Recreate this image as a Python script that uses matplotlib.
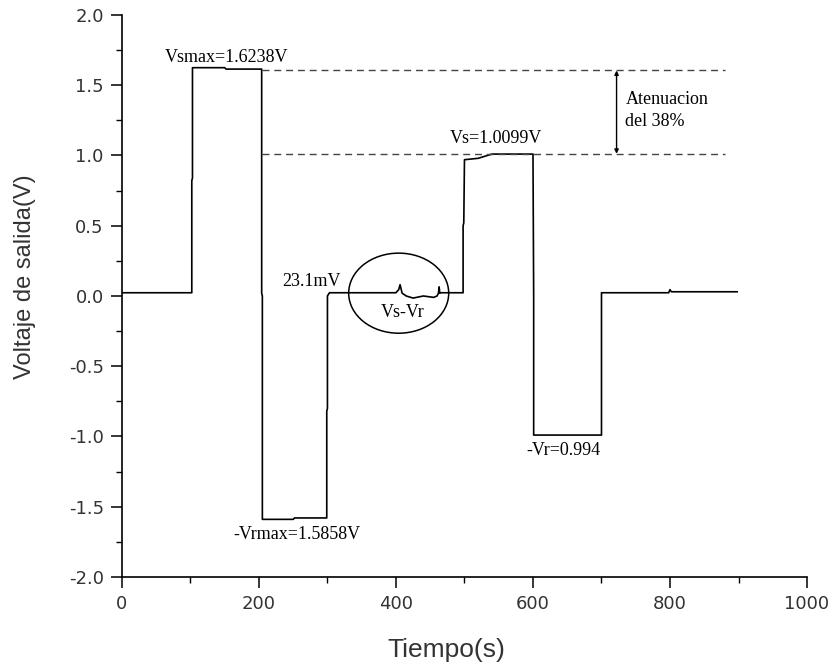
import matplotlib.pyplot as plt
from matplotlib.patches import Ellipse
from matplotlib.ticker import MultipleLocator

# signal breakpoints
tiempo = [0, 102, 102, 103, 103, 150, 152, 204, 204, 205, 205, 250, 252, 299, 299, 300,
          300, 303, 303, 400, 404, 406, 409, 415, 425, 440, 455, 460, 462, 463, 464, 466,
          498, 498, 499, 500, 520, 540, 600, 601, 601, 700, 700, 798, 800, 802, 898]
voltaje = [0.023, 0.023, 0.82, 0.84, 1.625, 1.625, 1.615, 1.615, 0.02, 0.0, -1.59, -1.59,
           -1.58, -1.58, -0.82, -0.80, 0.0, 0.023, 0.023, 0.023, 0.045, 0.08, 0.02, 0.0,
           -0.015, 0.0, -0.01, 0.0, 0.02, 0.065, 0.02, 0.023, 0.023, 0.5, 0.52, 0.97, 0.98,
           1.01, 1.01, 0.0, -0.99, -0.99, 0.023, 0.023, 0.045, 0.03, 0.03]

v_smax = 1.6238
v_s = 1.0099

fig = plt.figure(figsize=(8.35, 6.67), dpi=100)
ax = fig.add_axes([0.146, 0.135, 0.8205, 0.8425])

ax.plot(tiempo, voltaje, color='black', lw=1.2)

ax.hlines([1.605, 1.012], 205, 880, colors='#444444', linestyles=(0, (5, 3.5)), lw=1.0)
ax.annotate('', xy=(722, 1.605), xytext=(722, 1.012),
            arrowprops=dict(arrowstyle='<|-|>', color='black', lw=1.0,
                            mutation_scale=6, shrinkA=0, shrinkB=0))

serif = dict(family='Liberation Serif', fontsize=13, color='black')
ax.text(735, 1.32, 'Atenuacion\ndel 38%', ha='left', va='center', linespacing=1.45,
        family='Liberation Serif', fontsize=13)
ax.text(153, 1.70, f'Vsmax={v_smax}V', ha='center', va='center', **serif)
ax.text(546, 1.12, f'Vs={v_s}V', ha='center', va='center', **serif)
ax.text(277, 0.10, '23.1mV', ha='center', va='center', **serif)
ax.text(410, -0.12, 'Vs-Vr', ha='center', va='center', **serif)
ax.text(255, -1.70, '-Vrmax=1.5858V', ha='center', va='center', **serif)
ax.text(644, -1.10, '-Vr=0.994', ha='center', va='center', **serif)

ax.add_patch(Ellipse((404, 0.02), 146, 0.57, fill=False, edgecolor='black', lw=1.1))

ax.set_xlim(0, 1000)
ax.set_ylim(-2.0, 2.0)
ax.xaxis.set_major_locator(MultipleLocator(200))
ax.xaxis.set_minor_locator(MultipleLocator(100))
ax.yaxis.set_major_locator(MultipleLocator(0.5))
ax.yaxis.set_minor_locator(MultipleLocator(0.25))
ax.yaxis.set_major_formatter(plt.FuncFormatter(lambda v, p: f'{v:.1f}'))
ax.tick_params(which='major', direction='out', length=8, width=1.1, labelsize=13,
               labelcolor='#333333', pad=5)
ax.tick_params(which='minor', direction='out', length=4, width=1.0)
for s in ['top', 'right']:
    ax.spines[s].set_visible(False)
for s in ['left', 'bottom']:
    ax.spines[s].set_linewidth(1.2)

ax.set_xlabel('Tiempo(s)', family='Liberation Sans', fontsize=19, color='#333333')
ax.set_ylabel('Voltaje de salida(V)', family='Liberation Sans', fontsize=17, color='#333333')
ax.xaxis.set_label_coords(0.473, -0.108)
ax.yaxis.set_label_coords(-0.125, 0.534)

fig.savefig('out.png', dpi=100)
